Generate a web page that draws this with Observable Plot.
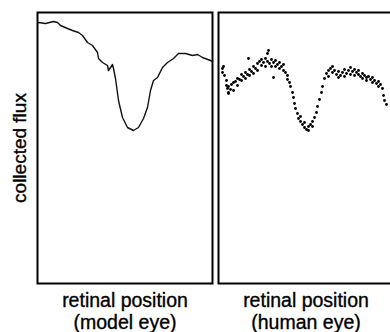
<!DOCTYPE html>
<html>
<head>
<meta charset="utf-8">
<script src="https://cdn.jsdelivr.net/npm/d3@7"></script>
<script src="https://cdn.jsdelivr.net/npm/@observablehq/plot@0.6"></script>
<style>
  html, body { margin: 0; padding: 0; background: #fff; }
  #chart { width: 390px; height: 332px; }
</style>
</head>
<body>
<div id="chart"></div>
<script>
// Panels
const panels = ["model", "human"];
const panelLabels = ["retinal position\n(model eye)", "retinal position\n(human eye)"];
const yLabel = "collected flux";

// Model eye: continuous profile (retinal position, collected flux; arbitrary units)
const modelX = [1,8,16,20,23,30,35,41,45,50,55,60,61,65,70,71,75,76,78,81,85,90,96,101,106,110,113,116,120,125,130,136,141,148,155,160,165,173,175];
const modelY = [261,260,262,261,258,255,253,251,248,241,238,231,225,221,218,213,219,215,205,183,166,156,153,156,165,176,193,203,206,216,221,225,230,230,228,229,226,223,222];

// Human eye: measured samples
const humanX = [4,4,5,6,8,8,9,10,10,12,
  13,15,15,17,19,19,21,23,23,25,
  27,27,29,31,31,33,35,35,37,39,
  39,41,43,43,45,47,47,49,49,51,
  53,53,55,57,57,59,61,61,63,65,
  65,67,69,69,71,72,74,75,76,77,
  79,80,82,82,84,86,86,88,90,90,
  92,94,94,96,98,99,101,103,104,106,
  108,110,110,112,114,114,116,118,120,120,
  122,124,126,126,128,130,132,132,134,136,
  136,138,140,140,142,144,144,146,148,148,
  150,152,154,154,156,158,160,160,162,164,
  165,166,168,30,50,55,10];
const humanY = [215,211,217,208,203,198,195,191,197,194,
  199,193,201,202,205,198,204,209,203,207,
  211,205,209,214,208,212,217,210,215,220,
  213,222,218,224,221,225,217,230,222,220,
  224,217,221,223,217,219,221,215,217,213,
  219,211,208,204,201,197,191,186,180,175,
  170,165,162,167,159,156,161,154,157,153,
  159,162,157,166,171,177,184,191,197,205,
  210,213,207,215,211,217,213,209,212,206,
  208,211,214,207,210,213,216,209,212,214,
  208,211,209,213,207,210,205,208,206,203,
  207,204,206,201,203,200,202,197,199,195,
  188,183,179,225,233,206,190];

const modelData = modelX.map((x, i) => ({panel: "model", x, y: modelY[i]}));
const humanData = humanX.map((x, i) => ({panel: "human", x, y: humanY[i]}));
const labelData = panels.map((p, i) => ({panel: p, label: panelLabels[i]}));

const font = "'Liberation Sans', Arial, sans-serif";

const chart = Plot.plot({
  width: 390,
  height: 332,
  marginLeft: 37,
  marginRight: -3,
  marginTop: 12,
  marginBottom: 49,
  style: {fontFamily: font, background: "#fff", color: "#000"},
  fx: {domain: panels, paddingInner: 0.034, paddingOuter: 0, axis: null, label: null},
  x: {domain: [0, 175], axis: null},
  y: {domain: [0, 271], axis: null},
  marks: [
    Plot.frame({stroke: "#000", strokeWidth: 2}),
    Plot.line(modelData, {fx: "panel", x: "x", y: "y", stroke: "#111", strokeWidth: 1.4}),
    Plot.dot(humanData, {fx: "panel", x: "x", y: "y", r: 1.4, fill: "#000", stroke: "none"}),
    Plot.text(labelData, {
      fx: "panel", text: "label", frameAnchor: "bottom", lineAnchor: "top",
      dy: 8, lineHeight: 1.12, fontSize: 19.5, fill: "#000",
      stroke: "#000", strokeWidth: 0.35,
      style: "letter-spacing:0.3px"
    }),
    Plot.text([{panel: "model", label: yLabel}], {
      fx: "panel", text: "label", frameAnchor: "left", rotate: -90,
      textAnchor: "middle", lineAnchor: "bottom", dx: -12, fontSize: 19, fill: "#000",
      stroke: "#000", strokeWidth: 0.35
    })
  ]
});
document.getElementById("chart").appendChild(chart);
</script>
</body>
</html>
